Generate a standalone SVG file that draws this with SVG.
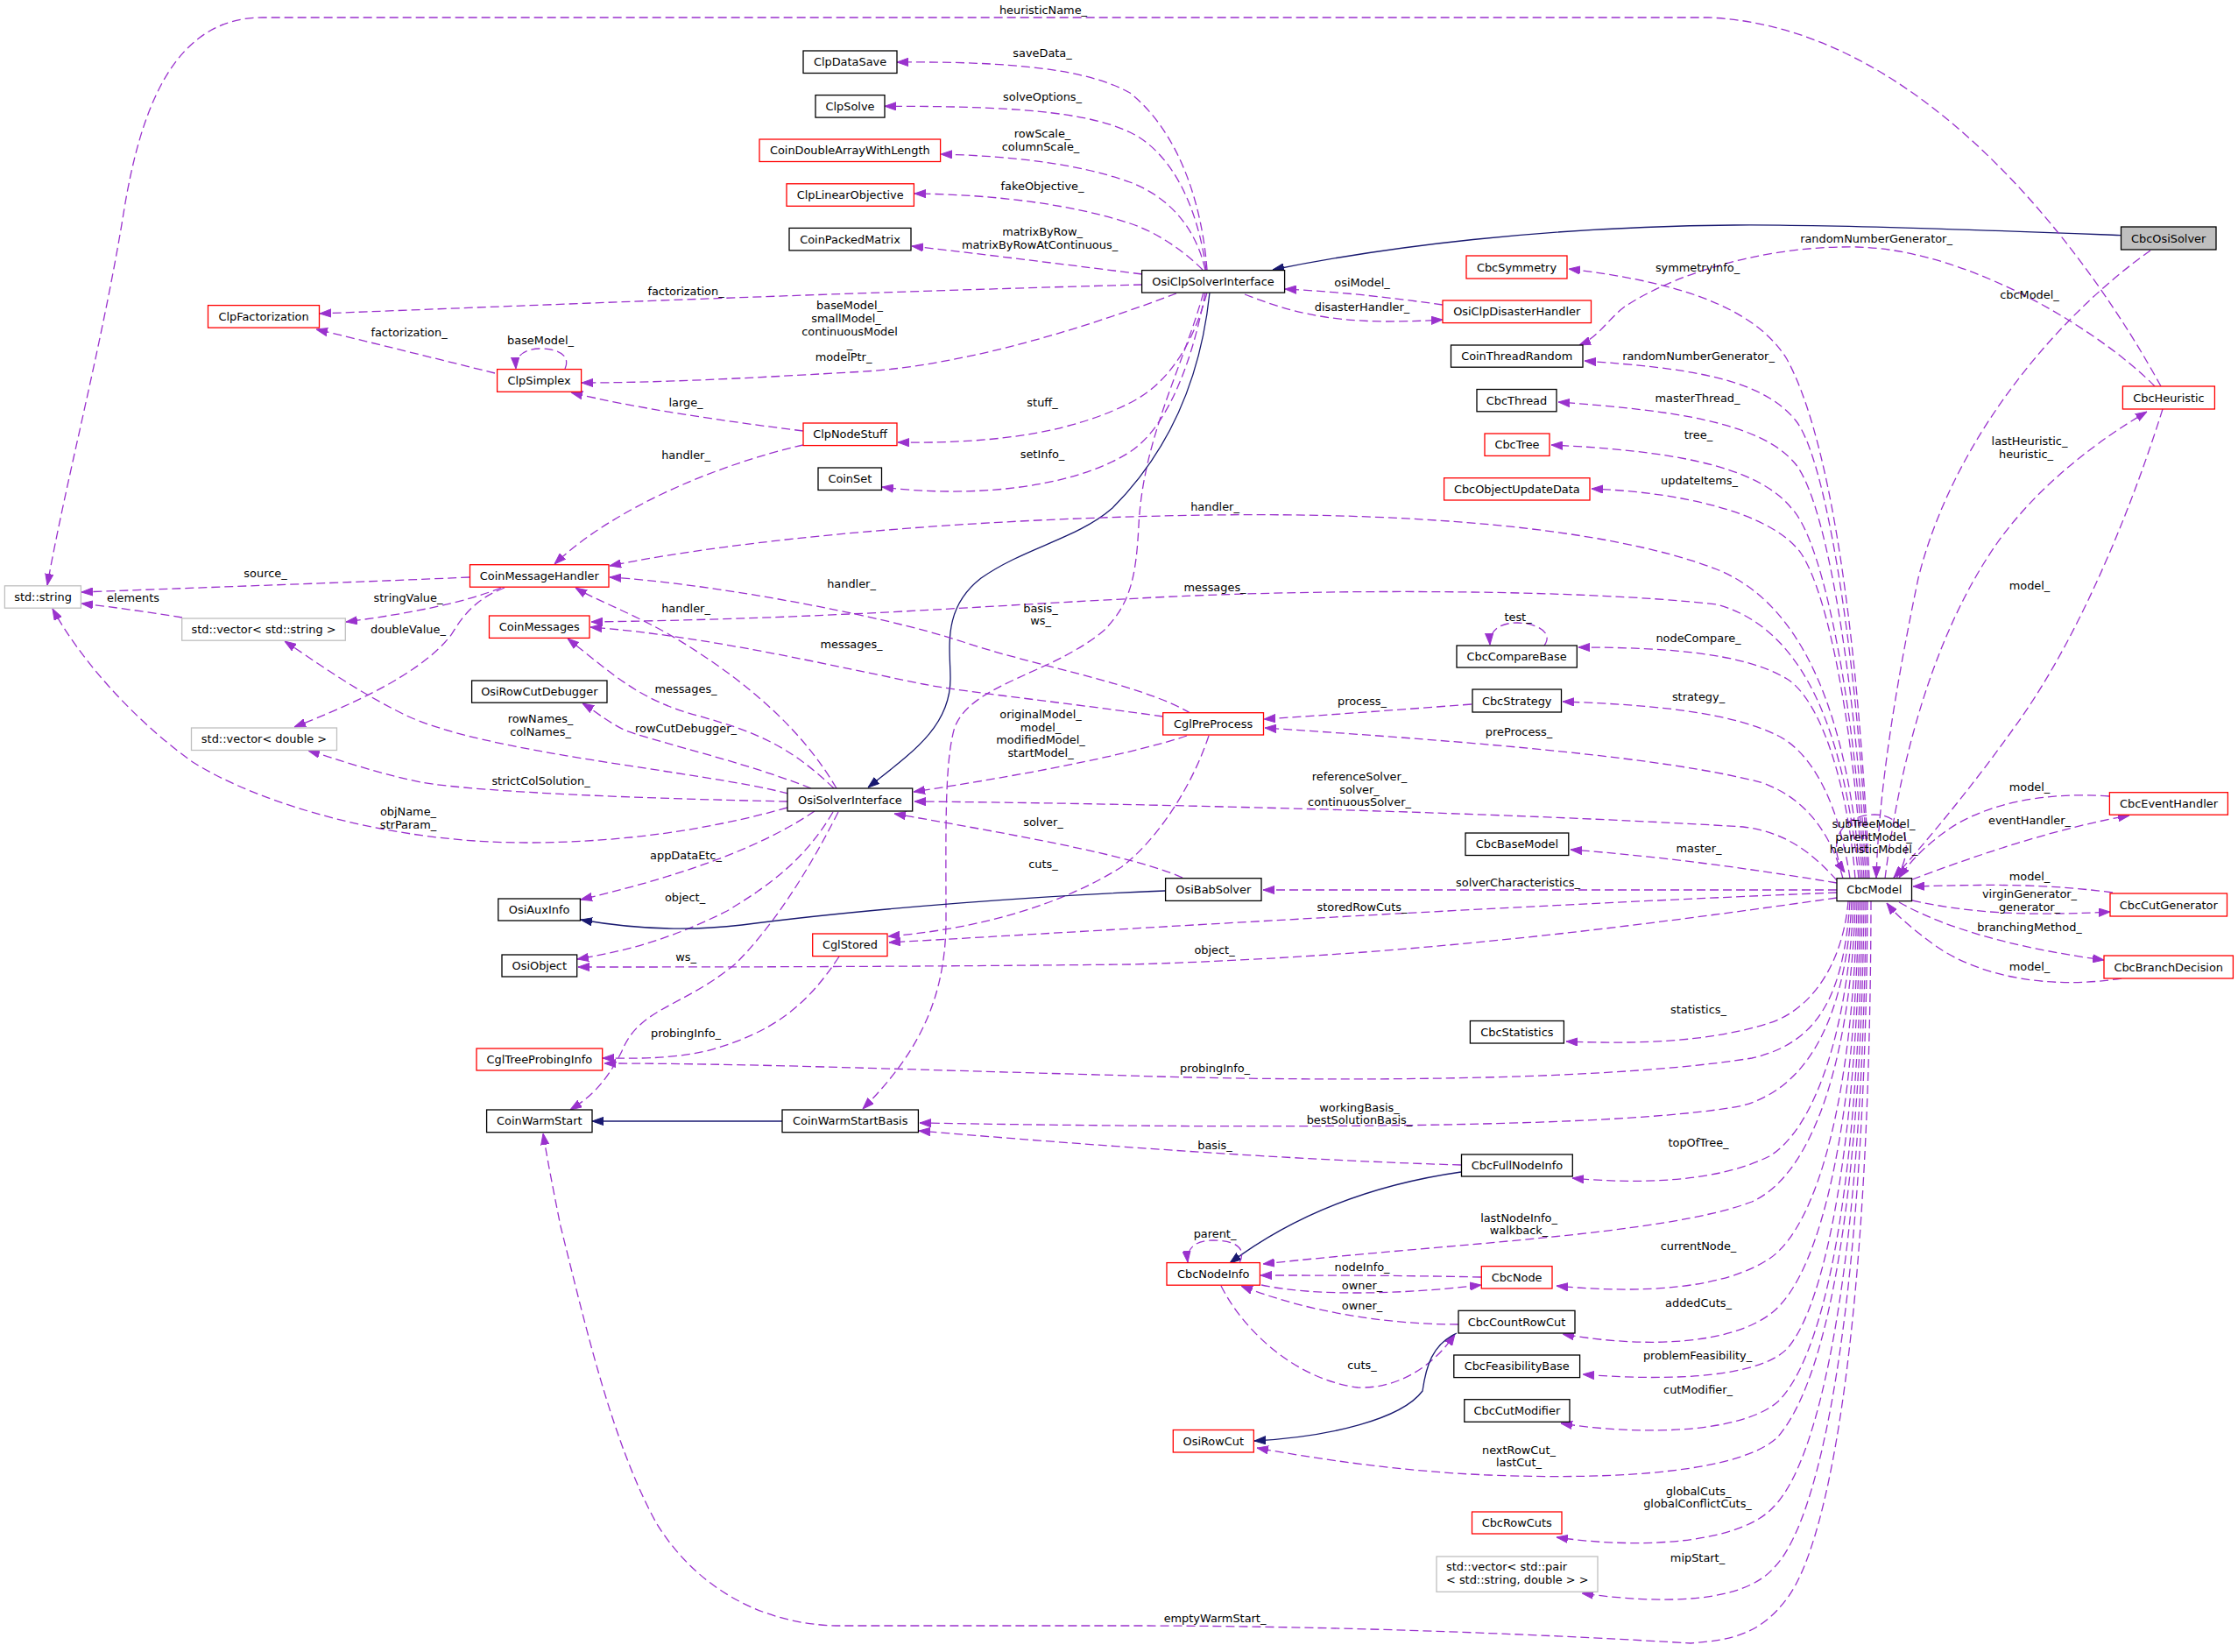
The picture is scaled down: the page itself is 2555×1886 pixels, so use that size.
<svg xmlns="http://www.w3.org/2000/svg" width="2555" height="1886" viewBox="0 0 2555 1886">
<style>
text{font-family:"DejaVu Sans","Liberation Sans",sans-serif;font-size:12.9px;fill:#000}
.n rect{fill:#fff;stroke:#000;stroke-width:1.3}
.n.r rect{stroke:#ff0000}
.n.g rect{stroke:#bfbfbf}
.n.f rect{fill:#bfbfbf}
.n text,.lb text{text-anchor:middle}
.e{fill:none;stroke:#9a32cd;stroke-width:1.3;stroke-dasharray:10,5;marker-end:url(#ap)}
.i{fill:none;stroke:#191970;stroke-width:1.3;marker-end:url(#ab)}
</style>
<defs>
<marker id="ap" viewBox="0 0 13 10" refX="13" refY="5" markerWidth="13" markerHeight="10" orient="auto" markerUnits="userSpaceOnUse"><path d="M0,0.4 L13,5 L0,9.6 Z" fill="#9a32cd" stroke="#9a32cd" stroke-width="1"/></marker>
<marker id="ab" viewBox="0 0 13 10" refX="13" refY="5" markerWidth="13" markerHeight="10" orient="auto" markerUnits="userSpaceOnUse"><path d="M0,0.4 L13,5 L0,9.6 Z" fill="#191970" stroke="#191970" stroke-width="1"/></marker>
</defs>
<rect width="2555" height="1886" fill="#fff"/>
<g id="connectors">
<path class="e" d="M1378,308 C1372,230 1345,150 1290,106 C1240,78 1150,70 1024,71"/>
<path class="e" d="M1377,308 C1368,240 1340,175 1290,151 C1240,127 1150,121 1010,121.3"/>
<path class="e" d="M1376,308 C1365,260 1335,225 1290,208 C1230,186 1150,178 1074,176"/>
<path class="e" d="M1373,308 C1350,285 1320,265 1290,255 C1220,232 1130,222 1044,221"/>
<path class="e" d="M1304,313 C1200,300 1120,290 1041,281"/>
<path class="e" d="M1304,325 C1000,333 700,345 365,358"/>
<path class="e" d="M1343,335 C1250,370 1100,420 970,425 C850,432 750,437 664,437"/>
<path class="e" d="M1378,334 C1360,400 1330,440 1290,460 C1230,490 1150,507 1025,505"/>
<path class="e" d="M1376,334 C1360,420 1330,490 1290,516 C1220,560 1100,568 1007,556"/>
<path class="e" d="M1374,334 C1350,420 1305,500 1300,600 C1297,660 1290,690 1260,720 C1200,770 1110,780 1090,830 C1078,870 1080,950 1080,1050 C1080,1150 1040,1210 985,1266"/>
<path class="i" d="M1381,334 C1370,440 1330,520 1270,580 C1230,615 1170,625 1120,660 C1075,695 1085,740 1085,775 C1085,830 1040,860 991,899"/>
<path class="e" d="M1421,336 C1470,355 1510,366 1580,367 C1610,367 1630,366 1647,365"/>
<path class="e" d="M1647,348 C1590,340 1530,333 1467,330"/>
<path class="i" d="M2421,268.6 C2300,264 2100,256 1980,257 C1760,259 1580,282 1453,308"/>
<path class="e" d="M2455,286 C2350,360 2230,500 2190,660 C2165,780 2145,900 2142,1002"/>
<path class="e" d="M2467,441 C2390,300 2200,30 1950,20 L300,20 C200,20 160,120 140,250 C115,400 75,550 54,668"/>
<path class="e" d="M2460,441 C2400,380 2250,285 2120,282 C2000,280 1900,320 1855,350 C1835,365 1825,385 1803,394"/>
<path class="e" d="M2469,467 C2440,560 2380,720 2300,830 C2250,900 2200,960 2162,1002"/>
<path class="e" d="M2152,1003 C2170,860 2210,720 2280,620 C2330,550 2400,500 2451,470"/>
<path class="e" d="M2408,909 C2330,903 2260,920 2220,950 C2195,968 2180,985 2168,1002"/>
<path class="e" d="M2183,1004 C2260,975 2350,945 2431,931"/>
<path class="e" d="M2412,1019 C2330,1008 2260,1010 2184,1012"/>
<path class="e" d="M2183,1028 C2260,1045 2330,1045 2409,1041"/>
<path class="e" d="M2168,1030 C2230,1065 2320,1085 2402,1096"/>
<path class="e" d="M2422,1117 C2340,1130 2260,1115 2210,1080 C2185,1062 2165,1045 2154,1031"/>
<path class="e" d="M2165,1003 C2190,960 2170,930 2140,930 C2100,930 2085,965 2106,996"/>
<path class="e" d="M2134,1003 C2125,800 2100,520 2040,410 C2000,345 1900,320 1791,307"/>
<path class="e" d="M2132,1003 C2125,800 2090,530 2050,480 C2010,430 1920,420 1809,412"/>
<path class="e" d="M2130,1003 C2122,820 2090,580 2050,530 C2010,480 1900,468 1779,459"/>
<path class="e" d="M2128,1003 C2120,830 2085,620 2045,580 C2005,530 1900,514 1771,508"/>
<path class="e" d="M2126,1003 C2118,850 2090,680 2055,630 C2020,585 1920,562 1817,558"/>
<path class="e" d="M2124,1003 C2110,820 2060,690 1960,650 C1830,600 1600,585 1380,588 C1100,592 850,615 696,646"/>
<path class="e" d="M2122,1003 C2108,860 2070,720 1960,690 C1800,672 1500,672 1300,683 C1100,693 950,706 675,710"/>
<path class="e" d="M2118,1003 C2110,900 2080,800 2040,775 C1990,745 1900,739 1802,739"/>
<path class="e" d="M2112,1003 C2100,920 2070,860 2030,840 C1980,815 1900,805 1784,801"/>
<path class="e" d="M2104,1003 C2090,950 2060,910 2010,893 C1900,865 1700,848 1444,831"/>
<path class="e" d="M2097,1005 C2070,975 2040,950 1990,944 C1800,932 1400,918 1044,915"/>
<path class="e" d="M2097,1016 L1442,1016"/>
<path class="e" d="M2097,1019 C1700,1035 1300,1060 1015,1076"/>
<path class="e" d="M2097,1025 C1850,1060 1600,1092 1290,1101 C1000,1104 800,1104 660,1104"/>
<path class="e" d="M2097,1008 C2000,992 1900,978 1793,970"/>
<path class="e" d="M1763,737 C1775,720 1750,711 1732,711 C1712,711 1700,720 1701,736"/>
<path class="e" d="M2110,1029 C2105,1090 2075,1150 2020,1168 C1950,1190 1870,1192 1788,1189"/>
<path class="e" d="M2112,1029 C2105,1130 2080,1190 2000,1208 C1800,1240 1400,1232 1290,1228 C1000,1220 850,1214 690,1214"/>
<path class="e" d="M2114,1029 C2108,1150 2070,1240 1990,1262 C1850,1290 1400,1288 1050,1282"/>
<path class="e" d="M2116,1029 C2110,1180 2070,1290 2020,1320 C1960,1350 1870,1352 1795,1345"/>
<path class="e" d="M2118,1029 C2114,1200 2072,1340 2000,1372 C1900,1410 1650,1420 1442,1443"/>
<path class="e" d="M2120,1029 C2116,1250 2075,1400 2020,1437 C1970,1470 1880,1478 1777,1468"/>
<path class="e" d="M2122,1029 C2118,1280 2080,1450 2025,1497 C1980,1535 1880,1540 1784,1523"/>
<path class="e" d="M2124,1029 C2120,1300 2085,1490 2040,1540 C2010,1570 1920,1578 1807,1569"/>
<path class="e" d="M2126,1029 C2122,1350 2085,1545 2030,1600 C1990,1635 1880,1640 1782,1625"/>
<path class="e" d="M2128,1029 C2125,1350 2090,1570 2030,1640 C1990,1680 1850,1690 1700,1684 C1600,1680 1500,1665 1435,1653"/>
<path class="e" d="M2130,1029 C2128,1400 2085,1660 2025,1720 C1990,1760 1880,1770 1777,1755"/>
<path class="e" d="M2132,1029 C2130,1450 2085,1730 2025,1790 C1990,1830 1900,1832 1806,1819"/>
<path class="e" d="M2136,1029 C2135,1500 2090,1760 2040,1825 C2010,1865 1980,1872 1930,1876 C1800,1868 1550,1856 1290,1856 L960,1856 C880,1856 800,1820 750,1740 C700,1650 670,1520 640,1400 C632,1360 626,1330 620,1294"/>
<path class="e" d="M565,426 C500,410 420,390 361,376"/>
<path class="e" d="M645,421 C652,405 636,398 617,398 C600,398 588,405 589,421"/>
<path class="e" d="M917,492 C820,480 720,465 652,448"/>
<path class="e" d="M917,508 C820,530 700,580 633,644"/>
<path class="e" d="M536,659 C400,665 250,670 93,676"/>
<path class="e" d="M208,705 C170,699 130,693 93,689"/>
<path class="e" d="M572,671 C530,688 470,700 395,710"/>
<path class="e" d="M576,671 C545,683 530,700 515,725 C480,770 400,805 336,830"/>
<path class="e" d="M900,906 C800,880 550,860 460,815 C400,785 360,755 325,732"/>
<path class="e" d="M899,915 C750,912 550,905 480,893 C420,880 390,868 352,857"/>
<path class="e" d="M899,922 C800,950 700,962 600,962 C450,962 300,920 220,870 C150,820 90,750 60,695"/>
<path class="e" d="M955,900 C920,840 860,780 760,722 C710,695 680,685 657,671"/>
<path class="e" d="M952,900 C900,850 860,835 800,818 C730,800 700,770 648,729"/>
<path class="e" d="M926,900 C850,870 760,850 714,834 C690,822 680,812 665,803"/>
<path class="e" d="M930,926 C880,960 800,995 663,1027"/>
<path class="e" d="M951,927 C920,980 880,1010 830,1040 C770,1070 720,1085 659,1095"/>
<path class="e" d="M957,927 C920,1000 880,1060 840,1100 C780,1150 730,1150 710,1200 C690,1240 670,1255 651,1267"/>
<path class="e" d="M958,1092 C920,1150 880,1180 806,1200 C760,1210 720,1208 688,1208"/>
<path class="e" d="M1380,840 C1360,900 1320,960 1280,990 C1200,1040 1100,1062 1014,1069"/>
<path class="e" d="M1359,814 C1300,780 1180,760 1100,733 C1000,700 800,665 696,659"/>
<path class="e" d="M1328,818 C1200,800 1100,790 1054,781 C950,760 800,725 674,716"/>
<path class="e" d="M1355,840 C1300,858 1200,880 1043,904"/>
<path class="e" d="M1680,804 C1600,810 1520,816 1443,821"/>
<path class="e" d="M1350,1002 C1300,980 1200,960 1021,929"/>
<path class="i" d="M1330,1017 C1200,1022 1000,1036 847,1056 C780,1064 720,1060 663,1050"/>
<path class="i" d="M893,1280 L676,1280"/>
<path class="e" d="M1668,1330 C1500,1325 1300,1312 1049,1291"/>
<path class="i" d="M1668,1338 C1570,1352 1480,1385 1404,1442"/>
<path class="e" d="M1415,1442 C1425,1422 1405,1416 1385,1416 C1366,1416 1354,1424 1356,1441"/>
<path class="e" d="M1691,1458 C1600,1456 1520,1456 1439,1456"/>
<path class="e" d="M1440,1467 C1500,1480 1600,1478 1691,1467"/>
<path class="e" d="M1665,1512 C1580,1512 1490,1497 1417,1468"/>
<path class="e" d="M1394,1468 C1420,1520 1480,1575 1550,1584 C1600,1586 1640,1555 1661,1523"/>
<path class="i" d="M1663,1522 C1635,1535 1628,1560 1624,1588 C1600,1620 1520,1640 1432,1645"/>
</g>
<g id="labels" class="lb">
<text x="1191" y="16">heuristicName_</text>
<text x="1190" y="65">saveData_</text>
<text x="1190" y="115">solveOptions_</text>
<text x="1190" y="156.5">rowScale_<tspan x="1188" dy="15">columnScale_</tspan></text>
<text x="1190" y="216.5">fakeObjective_</text>
<text x="1190" y="269">matrixByRow_<tspan x="1187" dy="15">matrixByRowAtContinuous_</tspan></text>
<text x="783" y="336.5">factorization_</text>
<text x="970" y="352.5">baseModel_<tspan x="966" dy="15">smallModel_</tspan><tspan x="970" dy="15">continuousModel</tspan><tspan x="970" dy="14.5">_</tspan><tspan x="963" dy="14.5">modelPtr_</tspan></text>
<text x="783" y="464">large_</text>
<text x="1190" y="464">stuff_</text>
<text x="783" y="524">handler_</text>
<text x="1190" y="523">setInfo_</text>
<text x="467" y="384">factorization_</text>
<text x="617" y="393">baseModel_</text>
<text x="1555" y="327">osiModel_</text>
<text x="1555" y="354.5">disasterHandler_</text>
<text x="1387" y="582.5">handler_</text>
<text x="2142" y="277">randomNumberGenerator_</text>
<text x="1938" y="309.5">symmetryInfo_</text>
<text x="2317" y="340.5">cbcModel_</text>
<text x="2317" y="508">lastHeuristic_<tspan x="2313" dy="14.5">heuristic_</tspan></text>
<text x="1939" y="411">randomNumberGenerator_</text>
<text x="1938" y="458.5">masterThread_</text>
<text x="1939" y="500.5">tree_</text>
<text x="1940" y="552.5">updateItems_</text>
<text x="303" y="659">source_</text>
<text x="152" y="686.5">elements</text>
<text x="466" y="686.5">stringValue_</text>
<text x="466" y="722.5">doubleValue_</text>
<text x="617" y="825">rowNames_<tspan x="617" dy="14.7">colNames_</tspan></text>
<text x="617.5" y="895.5">strictColSolution_</text>
<text x="466" y="931">objName_<tspan x="466" dy="14.5">strParam_</tspan></text>
<text x="972" y="670.5">handler_</text>
<text x="783" y="698.5">handler_</text>
<text x="1188" y="698.5">basis_<tspan x="1188" dy="14.7">ws_</tspan></text>
<text x="972" y="740">messages_</text>
<text x="783" y="791">messages_</text>
<text x="783" y="836">rowCutDebugger_</text>
<text x="1188" y="820">originalModel_<tspan x="1188" dy="14.7">model_</tspan><tspan x="1188" dy="14.7">modifiedModel_</tspan><tspan x="1188" dy="14.7">startModel_</tspan></text>
<text x="1191" y="943">solver_</text>
<text x="1191" y="991">cuts_</text>
<text x="783" y="981">appDataEtc_</text>
<text x="782" y="1029">object_</text>
<text x="783" y="1097">ws_</text>
<text x="783" y="1184">probingInfo_</text>
<text x="1387" y="675">messages_</text>
<text x="1733" y="708.5">test_</text>
<text x="1555" y="805">process_</text>
<text x="1734" y="840">preProcess_</text>
<text x="1552" y="891">referenceSolver_<tspan x="1552" dy="14.5">solver_</tspan><tspan x="1552" dy="14.5">continuousSolver_</tspan></text>
<text x="1733" y="1012">solverCharacteristics_</text>
<text x="1555" y="1040">storedRowCuts_</text>
<text x="1386.5" y="1089">object_</text>
<text x="1387" y="1224">probingInfo_</text>
<text x="1552" y="1268.5">workingBasis_<tspan x="1552" dy="14.5">bestSolutionBasis_</tspan></text>
<text x="1939" y="733">nodeCompare_</text>
<text x="1939" y="799.5">strategy_</text>
<text x="1939.5" y="972.5">master_</text>
<text x="1939" y="1157">statistics_</text>
<text x="2317" y="673">model_</text>
<text x="2317" y="902.5">model_</text>
<text x="2317" y="940.5">eventHandler_</text>
<text x="2139" y="945">subTreeModel_<tspan x="2139" dy="14.7">parentModel_</tspan><tspan x="2139" dy="14.7">heuristicModel_</tspan></text>
<text x="2317" y="1005">model_</text>
<text x="2317" y="1025">virginGenerator_<tspan x="2317" dy="15">generator_</tspan></text>
<text x="2317" y="1063">branchingMethod_</text>
<text x="2317" y="1108">model_</text>
<text x="1387" y="1311.5">basis_</text>
<text x="1387" y="1413">parent_</text>
<text x="1734" y="1394.5">lastNodeInfo_<tspan x="1734" dy="14.5">walkback_</tspan></text>
<text x="1555" y="1450.5">nodeInfo_</text>
<text x="1555" y="1472">owner_</text>
<text x="1555" y="1495">owner_</text>
<text x="1555" y="1563">cuts_</text>
<text x="1734" y="1659.5">nextRowCut_<tspan x="1734" dy="14.8">lastCut_</tspan></text>
<text x="1387" y="1852">emptyWarmStart_</text>
<text x="1939" y="1309">topOfTree_</text>
<text x="1939" y="1427">currentNode_</text>
<text x="1939" y="1492">addedCuts_</text>
<text x="1938" y="1552">problemFeasibility_</text>
<text x="1938.5" y="1591">cutModifier_</text>
<text x="1939" y="1707">globalCuts_<tspan x="1938" dy="14">globalConflictCuts_</tspan></text>
<text x="1938" y="1782.5">mipStart_</text>
</g>
<g id="CbcOsiSolver" class="n f"><rect x="2421.5" y="259" width="108.5" height="26"/><text x="2475.7" y="276.5">CbcOsiSolver</text></g>
<g id="OsiClpSolverInterface" class="n"><rect x="1303.6" y="308.6" width="163" height="25.5"/><text x="1385" y="325.8">OsiClpSolverInterface</text></g>
<g id="ClpDataSave" class="n"><rect x="917" y="58" width="107" height="25.5"/><text x="970.5" y="75.2">ClpDataSave</text></g>
<g id="ClpSolve" class="n"><rect x="931" y="108.6" width="79" height="25.5"/><text x="970.5" y="125.8">ClpSolve</text></g>
<g id="CoinDoubleArrayWithLength" class="n r"><rect x="867" y="159" width="206.6" height="25.5"/><text x="970.3" y="176.2">CoinDoubleArrayWithLength</text></g>
<g id="ClpLinearObjective" class="n r"><rect x="898" y="209.8" width="145.4" height="25.5"/><text x="970.7" y="227">ClpLinearObjective</text></g>
<g id="CoinPackedMatrix" class="n"><rect x="901" y="260.4" width="139" height="25.5"/><text x="970.5" y="277.6">CoinPackedMatrix</text></g>
<g id="ClpFactorization" class="n r"><rect x="237.5" y="348.6" width="127" height="25.5"/><text x="301" y="365.8">ClpFactorization</text></g>
<g id="ClpSimplex" class="n r"><rect x="567.6" y="421.6" width="96" height="25.7"/><text x="615.6" y="439">ClpSimplex</text></g>
<g id="ClpNodeStuff" class="n r"><rect x="917" y="483" width="107" height="25.6"/><text x="970.5" y="500.3">ClpNodeStuff</text></g>
<g id="CoinSet" class="n"><rect x="934" y="534" width="72.5" height="25.5"/><text x="970.3" y="551.2">CoinSet</text></g>
<g id="std_string" class="n g"><rect x="5.4" y="668.8" width="87" height="25.4"/><text x="49" y="686">std::string</text></g>
<g id="CoinMessageHandler" class="n r"><rect x="536.5" y="644.7" width="158.5" height="25.5"/><text x="615.8" y="661.9">CoinMessageHandler</text></g>
<g id="std_vector_string" class="n g"><rect x="207.7" y="706" width="186.6" height="25.2"/><text x="301" y="723.1">std::vector&lt; std::string &gt;</text></g>
<g id="CoinMessages" class="n r"><rect x="558.5" y="703" width="114.5" height="25.4"/><text x="615.8" y="720.2">CoinMessages</text></g>
<g id="OsiRowCutDebugger" class="n"><rect x="538.6" y="777" width="154.4" height="25.2"/><text x="615.8" y="794.1">OsiRowCutDebugger</text></g>
<g id="std_vector_double" class="n g"><rect x="218.5" y="831" width="166" height="25.5"/><text x="301.5" y="848.3">std::vector&lt; double &gt;</text></g>
<g id="OsiSolverInterface" class="n"><rect x="899" y="900" width="142.7" height="26"/><text x="970.4" y="917.5">OsiSolverInterface</text></g>
<g id="OsiAuxInfo" class="n"><rect x="568.8" y="1026" width="93.6" height="25"/><text x="615.6" y="1043">OsiAuxInfo</text></g>
<g id="OsiObject" class="n"><rect x="573" y="1090" width="85.7" height="25"/><text x="615.8" y="1107">OsiObject</text></g>
<g id="CglTreeProbingInfo" class="n r"><rect x="544" y="1197" width="143.7" height="25"/><text x="615.8" y="1214">CglTreeProbingInfo</text></g>
<g id="CoinWarmStart" class="n"><rect x="555.6" y="1267" width="120.4" height="25.7"/><text x="615.8" y="1284.3">CoinWarmStart</text></g>
<g id="CoinWarmStartBasis" class="n"><rect x="893" y="1267" width="155.4" height="25.7"/><text x="970.7" y="1284.3">CoinWarmStartBasis</text></g>
<g id="CglStored" class="n r"><rect x="927.7" y="1066" width="85.3" height="25.6"/><text x="970.4" y="1083.3">CglStored</text></g>
<g id="CglPreProcess" class="n r"><rect x="1327.7" y="813.7" width="114.8" height="25.3"/><text x="1385.1" y="830.9">CglPreProcess</text></g>
<g id="OsiBabSolver" class="n"><rect x="1330.6" y="1002.7" width="109.4" height="25.7"/><text x="1385.3" y="1020">OsiBabSolver</text></g>
<g id="CbcSymmetry" class="n r"><rect x="1674" y="292" width="115" height="26"/><text x="1731.5" y="309.5">CbcSymmetry</text></g>
<g id="OsiClpDisasterHandler" class="n r"><rect x="1647" y="343" width="169.5" height="25.6"/><text x="1731.7" y="360.3">OsiClpDisasterHandler</text></g>
<g id="CoinThreadRandom" class="n"><rect x="1656.5" y="394" width="150.5" height="25.2"/><text x="1731.7" y="411.1">CoinThreadRandom</text></g>
<g id="CbcThread" class="n"><rect x="1686" y="444.5" width="91" height="25.3"/><text x="1731.5" y="461.6">CbcThread</text></g>
<g id="CbcTree" class="n r"><rect x="1695" y="495" width="74" height="25.4"/><text x="1732" y="512.2">CbcTree</text></g>
<g id="CbcObjectUpdateData" class="n r"><rect x="1648.6" y="545.7" width="166.4" height="25.3"/><text x="1731.8" y="562.8">CbcObjectUpdateData</text></g>
<g id="CbcCompareBase" class="n"><rect x="1663" y="737" width="137.3" height="25"/><text x="1731.6" y="754">CbcCompareBase</text></g>
<g id="CbcStrategy" class="n"><rect x="1681" y="787" width="101.5" height="26"/><text x="1731.7" y="804.5">CbcStrategy</text></g>
<g id="CbcBaseModel" class="n"><rect x="1673" y="951" width="117.8" height="25.5"/><text x="1731.9" y="968.3">CbcBaseModel</text></g>
<g id="CbcStatistics" class="n"><rect x="1678.4" y="1165.5" width="107" height="25.5"/><text x="1731.9" y="1182.8">CbcStatistics</text></g>
<g id="CbcFullNodeInfo" class="n"><rect x="1668.5" y="1318" width="126.8" height="25"/><text x="1731.9" y="1335">CbcFullNodeInfo</text></g>
<g id="CbcNodeInfo" class="n r"><rect x="1332" y="1441.6" width="106.4" height="25.6"/><text x="1385.2" y="1458.9">CbcNodeInfo</text></g>
<g id="CbcNode" class="n r"><rect x="1691.3" y="1445.6" width="80.7" height="25.4"/><text x="1731.6" y="1462.8">CbcNode</text></g>
<g id="CbcCountRowCut" class="n"><rect x="1665" y="1496.3" width="133" height="25.7"/><text x="1731.5" y="1513.7">CbcCountRowCut</text></g>
<g id="CbcFeasibilityBase" class="n"><rect x="1659.8" y="1547" width="143.8" height="25.6"/><text x="1731.7" y="1564.3">CbcFeasibilityBase</text></g>
<g id="CbcCutModifier" class="n"><rect x="1671.8" y="1597.7" width="120.2" height="25.6"/><text x="1731.9" y="1615">CbcCutModifier</text></g>
<g id="OsiRowCut" class="n r"><rect x="1339.3" y="1632.5" width="92" height="25.5"/><text x="1385.3" y="1649.7">OsiRowCut</text></g>
<g id="CbcRowCuts" class="n r"><rect x="1680.5" y="1726" width="102.5" height="25"/><text x="1731.7" y="1743">CbcRowCuts</text></g>
<g id="std_vector_pair" class="n g"><rect x="1640" y="1777" width="184" height="40.3"/><text x="1651" y="1793" style="text-anchor:start">std::vector&lt; std::pair</text><text x="1651" y="1808" style="text-anchor:start">&lt; std::string, double &gt; &gt;</text></g>
<g id="CbcModel" class="n"><rect x="2097" y="1002.7" width="85.5" height="26"/><text x="2139.8" y="1020.2">CbcModel</text></g>
<g id="CbcHeuristic" class="n r"><rect x="2423.4" y="441" width="105" height="26"/><text x="2476" y="458.5">CbcHeuristic</text></g>
<g id="CbcEventHandler" class="n r"><rect x="2408.4" y="904.7" width="135" height="25.5"/><text x="2476" y="921.8">CbcEventHandler</text></g>
<g id="CbcCutGenerator" class="n r"><rect x="2409" y="1020" width="133.5" height="26"/><text x="2475.8" y="1037.5">CbcCutGenerator</text></g>
<g id="CbcBranchDecision" class="n r"><rect x="2402" y="1091" width="147.4" height="26"/><text x="2475.7" y="1108.5">CbcBranchDecision</text></g>
</svg>
